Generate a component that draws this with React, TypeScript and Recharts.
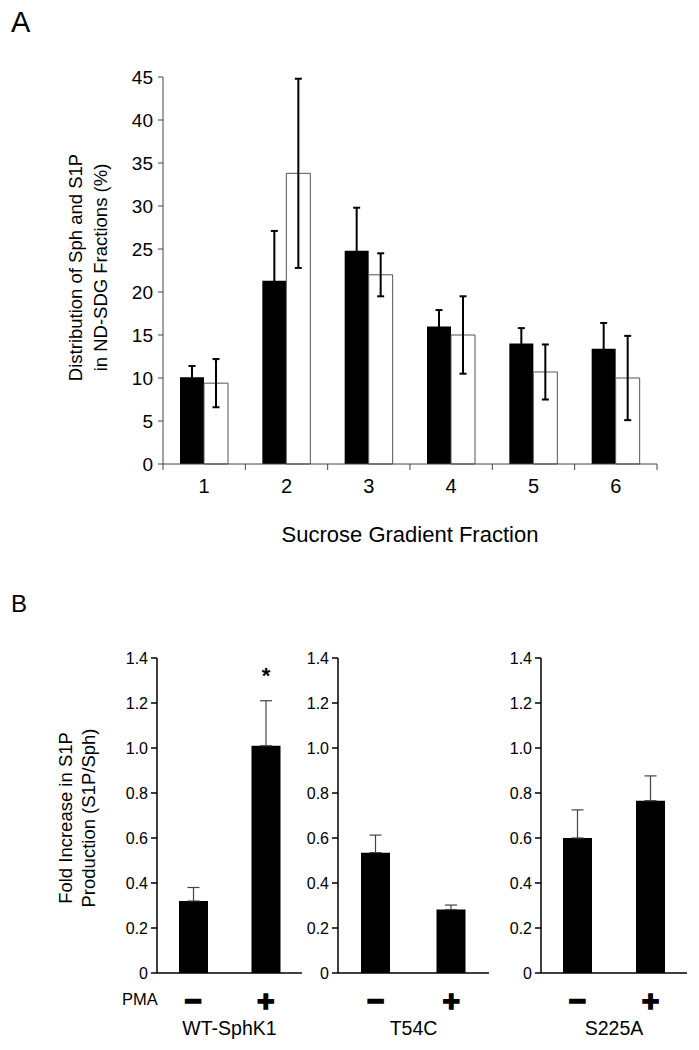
import { BarChart, Bar, XAxis, YAxis, ErrorBar, LabelList } from 'recharts'

// Panel A: distribution across sucrose gradient fractions
const fractions = ['1', '2', '3', '4', '5', '6']
const sphValues = [10.1, 21.3, 24.8, 16.0, 14.0, 13.4]
const sphErrors = [1.3, 5.8, 5.0, 1.9, 1.8, 3.0]
const s1pValues = [9.4, 33.8, 22.0, 15.0, 10.7, 10.0]
const s1pErrors = [2.8, 11.0, 2.5, 4.5, 3.2, 4.9]
const distTicks = [0, 5, 10, 15, 20, 25, 30, 35, 40, 45]

// Panel B: fold increase, -/+ PMA
const pmaLabels = ['−', '+']
const wtValues = [0.32, 1.01]
const wtErrors = [0.06, 0.2]
const wtMarks = ['', '*']
const t54cValues = [0.535, 0.282]
const t54cErrors = [0.078, 0.02]
const s225aValues = [0.6, 0.766]
const s225aErrors = [0.125, 0.11]
const foldTicks = [0, 0.2, 0.4, 0.6, 0.8, 1.0, 1.2, 1.4]

const FONT = '"Liberation Sans", Arial, sans-serif'

const distData = fractions.map((f, i) => ({
  fraction: f,
  sph: sphValues[i],
  sphErr: sphErrors[i],
  s1p: s1pValues[i],
  s1pErr: s1pErrors[i],
}))

// ticks sit on the category boundaries, labels in the middle
const FractionTick = (props: any) => {
  const { x, y, payload, index } = props
  const half = payload?.offset || 494 / 12
  return (
    <g>
      <line x1={x - half} x2={x - half} y1={y} y2={y + 6} stroke="#444" />
      {index === fractions.length - 1 && (
        <line x1={x + half} x2={x + half} y1={y} y2={y + 6} stroke="#444" />
      )}
      <text x={x} y={y + 29} textAnchor="middle" fontSize={20} fill="#000">
        {payload.value}
      </text>
    </g>
  )
}

const distYLabel = (props: any) => {
  const vb = props.viewBox || { x: 0, y: 77, width: 163, height: 387 }
  const right = vb.x + vb.width
  const cy = vb.y + vb.height / 2 - 3
  const lines = ['Distribution of Sph and S1P', 'in ND-SDG Fractions (%)']
  return (
    <g>
      {lines.map((t, i) => {
        const bx = right - 81.5 + i * 25
        return (
          <text key={i} x={bx} y={cy} transform={`rotate(-90, ${bx}, ${cy})`}
            textAnchor="middle" fontSize={18.5} fill="#000">{t}</text>
        )
      })}
    </g>
  )
}

const distXLabel = (props: any) => {
  const vb = props.viewBox || { x: 163, y: 464, width: 494, height: 96 }
  return (
    <text x={vb.x + vb.width / 2} y={vb.y + 78} textAnchor="middle" fontSize={22} fill="#000">
      Sucrose Gradient Fraction
    </text>
  )
}

function DistributionChart() {
  return (
    <BarChart width={699} height={560} data={distData} barSize={24} barGap={0}
      margin={{ top: 77, right: 42, bottom: 0, left: 0 }}>
      <XAxis dataKey="fraction" height={96} interval={0} tickSize={0} tickMargin={0}
        tickLine={false} axisLine={{ stroke: '#444' }} tick={<FractionTick />} label={distXLabel} />
      <YAxis width={163} domain={[0, 45]} ticks={distTicks} interval={0} tickSize={5} tickMargin={5}
        axisLine={{ stroke: '#444' }} tickLine={{ stroke: '#444' }}
        tick={{ fill: '#000', fontSize: 19 }} label={distYLabel} />
      <Bar dataKey="sph" fill="#000" isAnimationActive={false}>
        <ErrorBar dataKey="sphErr" direction="y" width={3.5} stroke="#000" strokeWidth={2} isAnimationActive={false} />
      </Bar>
      <Bar dataKey="s1p" fill="#fff" stroke="#555" strokeWidth={1} isAnimationActive={false}>
        <ErrorBar dataKey="s1pErr" direction="y" width={3.5} stroke="#000" strokeWidth={2} isAnimationActive={false} />
      </Bar>
    </BarChart>
  )
}

const SignTick = (props: any) => {
  const { x, y, payload } = props
  return (
    <text x={x} y={y + 38} textAnchor="middle" fontSize={30} fontWeight="bold"
      fill="#000" stroke="#000" strokeWidth={1.5}>{payload.value}</text>
  )
}

const foldYLabel = (props: any) => {
  const vb = props.viewBox || { x: 30, y: 658, width: 127, height: 314 }
  const right = vb.x + vb.width
  const cy = vb.y + vb.height / 2 + 2.5
  const lines = ['Fold Increase in S1P', 'Production (S1P/Sph)']
  return (
    <g>
      {lines.map((t, i) => {
        const bx = right - 85.5 + i * 23
        return (
          <text key={i} x={bx} y={cy} transform={`rotate(-90, ${bx}, ${cy})`}
            textAnchor="middle" fontSize={18.5} fill="#000">{t}</text>
        )
      })}
    </g>
  )
}

interface FoldProps {
  name: string
  values: number[]
  errors: number[]
  marks?: string[]
  left: number
  width: number
  axisWidth: number
  marginRight: number
  first?: boolean
}

function FoldChart({ name, values, errors, marks, left, width, axisWidth, marginRight, first }: FoldProps) {
  const data = pmaLabels.map((pma, i) => ({
    pma,
    value: values[i],
    err: [0, errors[i]],
    mark: marks ? marks[i] : '',
  }))

  const groupLabel = (props: any) => {
    const vb = props.viewBox || { x: axisWidth, y: 372, width: 145, height: 78 }
    return (
      <g>
        {first && (
          <text x={vb.x - 35} y={vb.y + 32} fontSize={16.5} fill="#000">PMA</text>
        )}
        <text x={vb.x + vb.width / 2} y={vb.y + 62} textAnchor="middle" fontSize={19.5} fill="#000">
          {name}
        </text>
      </g>
    )
  }

  return (
    <div style={{ position: 'absolute', left, top: 600 }}>
      <BarChart width={width} height={450} data={data} barSize={29}
        margin={{ top: 58, right: marginRight, bottom: 0, left: 0 }}>
        <XAxis dataKey="pma" height={77} interval={0} tickSize={0} tickMargin={0} tickLine={false}
          axisLine={{ stroke: '#000', strokeWidth: 1.5 }} tick={<SignTick />} label={groupLabel} />
        <YAxis width={axisWidth} domain={[0, 1.4]} ticks={foldTicks} interval={0} tickSize={6} tickMargin={3}
          axisLine={{ stroke: '#000', strokeWidth: 1.5 }} tickLine={{ stroke: '#000', strokeWidth: 1.5 }}
          tick={{ fill: '#000', fontSize: 16 }}
          tickFormatter={(v: number) => (v === 0 ? '0' : v.toFixed(1))}
          label={first ? foldYLabel : undefined} />
        <Bar dataKey="value" fill="#000" isAnimationActive={false}>
          <ErrorBar dataKey="err" direction="y" width={6} stroke="#444" strokeWidth={1.2} isAnimationActive={false} />
          {marks && (
            <LabelList dataKey="mark" position="top" offset={63} fontSize={22} fontWeight="bold" fill="#000" />
          )}
        </Bar>
      </BarChart>
    </div>
  )
}

export default function App() {
  return (
    <div style={{ position: 'absolute', left: 0, top: 0, width: 699, height: 1050, background: '#fff', fontFamily: FONT, color: '#000' }}>
      <div style={{ position: 'absolute', left: 11, top: 7.5, fontSize: 29, lineHeight: 1 }}>A</div>
      <div style={{ position: 'absolute', left: 0, top: 0 }}>
        <DistributionChart />
      </div>
      <div style={{ position: 'absolute', left: 11, top: 591.5, fontSize: 24, lineHeight: 1 }}>B</div>
      <FoldChart name="WT-SphK1" values={wtValues} errors={wtErrors} marks={wtMarks}
        left={30} width={272} axisWidth={127} marginRight={0} first />
      <FoldChart name="T54C" values={t54cValues} errors={t54cErrors}
        left={302} width={189} axisWidth={36} marginRight={2} />
      <FoldChart name="S225A" values={s225aValues} errors={s225aErrors}
        left={495} width={196} axisWidth={46} marginRight={4} />
    </div>
  )
}
